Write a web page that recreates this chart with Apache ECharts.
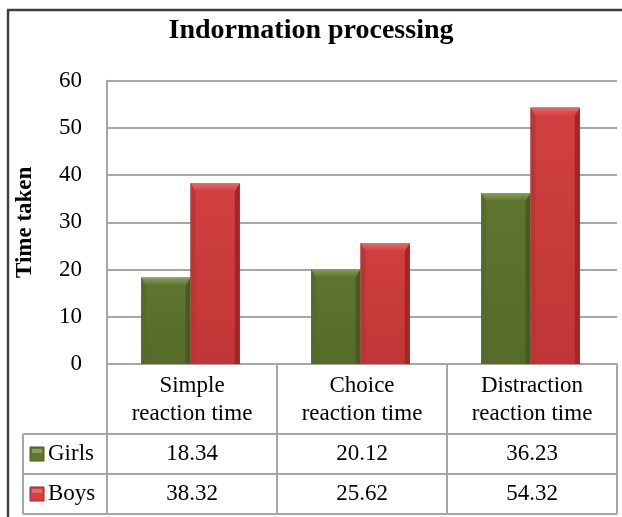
<!DOCTYPE html>
<html>
<head>
<meta charset="utf-8">
<script src="https://cdn.jsdelivr.net/npm/echarts@6/dist/echarts.min.js"></script>
<style>
  html, body { margin: 0; padding: 0; background: #ffffff; }
  #chart { width: 622px; height: 517px; }
</style>
</head>
<body>
<div id="chart"></div>
<script>
// Reaction-time measurements per group
const categories = ['Simple\nreaction time', 'Choice\nreaction time', 'Distraction\nreaction time'];
const seriesNames = ['Girls', 'Boys'];
const girls = [18.34, 20.12, 36.23];
const boys = [38.32, 25.62, 54.32];
const valueAxis = { min: 0, max: 60, interval: 10 };
const chartTitle = 'Indormation processing';
const axisTitle = 'Time taken';

const SERIF = '"Liberation Serif", "Times New Roman", serif';
const GRID_LINE = '#a6a6a6';

// bevel palette for each series
const palettes = [
  { top: '#8a9f5c', bodyA: '#5f752f', bodyB: '#566a29', left: '#566b2b', right: '#485a22' },
  { top: '#e66a6a', bodyA: '#d24040', bodyB: '#c03636', left: '#bc3434', right: '#9c2828' }
];

// table geometry below the plot
const plotTop = 80.7, plotBottom = 364, plotLeft = 107, plotRight = 617;
const catRowH = 70, valRowH = 40, tableLeft = 23;

const chart = echarts.init(document.getElementById('chart'), null, { renderer: 'canvas' });

function bevelBar(sIdx) {
  const p = palettes[sIdx];
  return function (params, api) {
    const ci = api.value(0), v = api.value(1);
    const base = api.coord([ci, 0]);
    const top = api.coord([ci, v]);
    const band = api.size([1, 0])[0];
    const w = band * 0.29;
    const x0 = base[0] - 1.5 - w + sIdx * w;
    const x1 = x0 + w;
    const y0 = top[1], y1 = base[1];
    const b = Math.min(8, (y1 - y0) / 2);
    const s = 5;
    return {
      type: 'group',
      children: [
        {
          type: 'rect',
          shape: { x: x0, y: y0, width: w, height: y1 - y0 },
          style: {
            fill: new echarts.graphic.LinearGradient(0, 0, 0, 1, [
              { offset: 0, color: p.bodyA }, { offset: 1, color: p.bodyB }
            ]),
            shadowBlur: 4, shadowColor: 'rgba(0,0,0,0.35)', shadowOffsetX: 2, shadowOffsetY: 1
          }
        },
        { type: 'polygon', shape: { points: [[x0, y0], [x0 + s, y0 + b], [x0 + s, y1], [x0, y1]] }, style: { fill: p.left } },
        { type: 'polygon', shape: { points: [[x1, y0], [x1, y1], [x1 - s, y1], [x1 - s, y0 + b]] }, style: { fill: p.right } },
        { type: 'polygon', shape: { points: [[x0, y0], [x1, y0], [x1 - s, y0 + b], [x0 + s, y0 + b]] },
          style: { fill: new echarts.graphic.LinearGradient(0, 0, 0, 1, [
            { offset: 0, color: p.top }, { offset: 1, color: p.bodyA }
          ]) } }
      ]
    };
  };
}

const seriesData = [girls, boys];

chart.setOption({
  animation: false,
  backgroundColor: '#ffffff',
  title: {
    text: chartTitle,
    left: 'center',
    top: 12,
    textStyle: { fontFamily: SERIF, fontSize: 28, fontWeight: 'bold', color: '#000' }
  },
  grid: { left: plotLeft, right: 622 - plotRight, top: plotTop, bottom: 517 - plotBottom, containLabel: false },
  xAxis: {
    type: 'category',
    data: categories,
    boundaryGap: true,
    axisLine: { show: true, lineStyle: { color: GRID_LINE, width: 2 } },
    axisTick: { show: true, interval: 0, length: catRowH + 2 * valRowH, lineStyle: { color: GRID_LINE, width: 2 } },
    axisLabel: { interval: 0, margin: 8, fontFamily: SERIF, fontSize: 23, lineHeight: 28, color: '#000', align: 'center' }
  },
  yAxis: {
    type: 'value',
    min: valueAxis.min, max: valueAxis.max, interval: valueAxis.interval,
    name: axisTitle,
    nameLocation: 'middle',
    nameRotate: 90,
    nameGap: 70,
    nameTextStyle: { fontFamily: SERIF, fontSize: 23, fontWeight: 'bold', color: '#000' },
    axisLine: { show: true, lineStyle: { color: GRID_LINE, width: 2 } },
    axisTick: { show: false },
    axisLabel: { margin: 25, fontFamily: SERIF, fontSize: 23, color: '#000' },
    splitLine: { show: true, lineStyle: { color: GRID_LINE, width: 2 } }
  },
  series: seriesNames.map((name, s) => ({
    type: 'custom',
    name: name,
    renderItem: bevelBar(s),
    encode: { x: 0, y: 1 },
    data: seriesData[s].map((v, i) => [i, v]),
    z: 3
  }))
});

// data table rows, legend keys and frame
function drawTable() {
  const g = [];
  const rowTop = plotBottom + catRowH;
  const lineStyle = { stroke: GRID_LINE, lineWidth: 2 };
  for (let r = 0; r <= seriesNames.length; r++) {
    const y = rowTop + r * valRowH;
    g.push({ type: 'line', shape: { x1: tableLeft, y1: y, x2: plotRight, y2: y }, style: lineStyle, z: 1 });
  }
  g.push({ type: 'line', shape: { x1: tableLeft, y1: rowTop, x2: tableLeft, y2: rowTop + seriesNames.length * valRowH }, style: lineStyle, z: 1 });

  seriesNames.forEach((name, s) => {
    const cy = rowTop + s * valRowH + valRowH / 2;
    const p = palettes[s];
    g.push({ type: 'rect', shape: { x: 30, y: cy - 7, width: 14, height: 14 },
      style: { fill: p.bodyA, stroke: p.right, lineWidth: 1 }, z: 5 });
    g.push({ type: 'rect', shape: { x: 32, y: cy - 5, width: 10, height: 4 },
      style: { fill: p.top }, z: 6 });
    g.push({ type: 'text', x: 48, y: cy, style: { text: name, fontFamily: SERIF, fontSize: 23, fill: '#000', verticalAlign: 'middle', align: 'left' }, z: 5 });
    seriesData[s].forEach((v, i) => {
      const cx = chart.convertToPixel({ xAxisIndex: 0 }, i);
      g.push({ type: 'text', x: cx, y: cy, style: { text: v.toFixed(2), fontFamily: SERIF, fontSize: 23, fill: '#000', align: 'center', verticalAlign: 'middle' }, z: 5 });
    });
  });

  // outer chart frame (top and left edges)
  g.push({ type: 'line', shape: { x1: 7, y1: 10, x2: 622, y2: 10 }, style: { stroke: '#404040', lineWidth: 2.5 }, z: 10 });
  g.push({ type: 'line', shape: { x1: 8, y1: 10, x2: 8, y2: 517 }, style: { stroke: '#404040', lineWidth: 2.5 }, z: 10 });

  chart.setOption({ graphic: g });
}
drawTable();
</script>
</body>
</html>
